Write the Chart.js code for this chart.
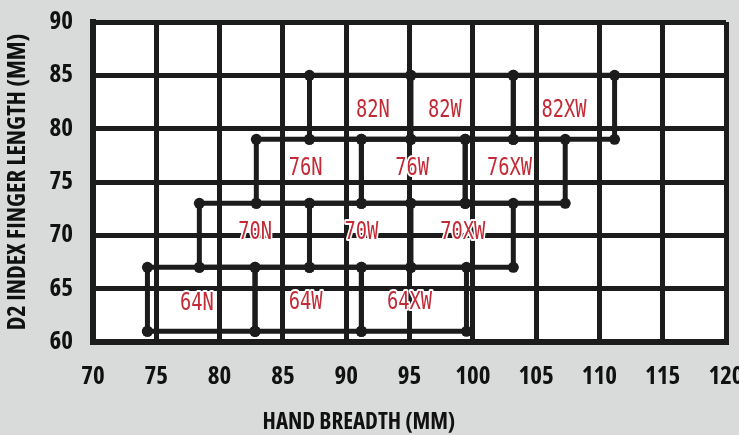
<!DOCTYPE html>
<html><head><meta charset="utf-8">
<script src="https://cdn.jsdelivr.net/npm/chart.js@4/dist/chart.umd.min.js"></script>
<style>html,body{margin:0;padding:0;background:#d9dbda;overflow:hidden}</style>
</head><body>
<canvas id="c" width="739" height="435"></canvas>
<script>
// ---- data ----
const sizeNames = ['64N','64W','64XW','70N','70W','70XW','76N','76W','76XW','82N','82W','82XW'];
const breadthLow  = [74.3, 82.8, 91.2, 78.4, 87.1, 95.1, 82.9, 91.2, 99.4, 87.1, 95.1, 103.2];
const breadthHigh = [82.8, 91.2, 99.5, 87.1, 95.1, 103.2, 91.2, 99.4, 107.3, 95.1, 103.2, 111.2];
const fingerLow   = [61, 61, 61, 67, 67, 67, 73, 73, 73, 79, 79, 79];
const fingerHigh  = [67, 67, 67, 73, 73, 73, 79, 79, 79, 85, 85, 85];
const labelX = [78.2, 86.8, 95.0, 82.8, 91.2, 99.2, 86.8, 95.2, 102.9, 92.1, 97.8, 107.2];
const labelY = [63.6, 63.7, 63.7, 70.2, 70.2, 70.2, 76.2, 76.2, 76.2, 81.7, 81.7, 81.7];
const xTickValues = [70, 75, 80, 85, 90, 95, 100, 105, 110, 115, 120];
const yTickValues = [60, 65, 70, 75, 80, 85, 90];
const xTitle = 'HAND BREADTH (MM)';
const yTitle = 'D2 INDEX FINGER LENGTH (MM)';
const xTitleCenterValue = 91; // the reference's x-axis title sits under ~91 mm, not mid-axis

const INK = '#1c1c1c';
const RED = '#c22a36';
const AXIS_FONT = '"Open Sans","Roboto",sans-serif';
const AXIS_WEIGHT = 'bold condensed';

const datasets = sizeNames.map((n, i) => ({
  label: n,
  data: [
    {x: breadthLow[i],  y: fingerLow[i]},
    {x: breadthHigh[i], y: fingerLow[i]},
    {x: breadthHigh[i], y: fingerHigh[i]},
    {x: breadthLow[i],  y: fingerHigh[i]},
    {x: breadthLow[i],  y: fingerLow[i]}
  ],
  showLine: true,
  borderColor: INK,
  borderWidth: 5,
  pointRadius: 5.5,
  pointBackgroundColor: INK,
  pointBorderWidth: 0,
  fill: false,
  tension: 0
}));

const bgPlugin = {
  id: 'bg',
  beforeDraw(chart) {
    const {ctx, chartArea: a} = chart;
    ctx.save();
    ctx.fillStyle = '#d9dbda';
    ctx.fillRect(0, 0, chart.width, chart.height);
    ctx.fillStyle = '#ffffff';
    ctx.fillRect(a.left, a.top, a.right - a.left, a.bottom - a.top);
    ctx.restore();
  }
};

const labelPlugin = {
  id: 'sizeLabels',
  afterDatasetsDraw(chart) {
    const {ctx} = chart;
    const xs = chart.scales.x, ys = chart.scales.y;
    ctx.save();
    ctx.font = '24px "DejaVu Sans Mono", monospace';
    ctx.textAlign = 'center';
    ctx.textBaseline = 'middle';
    sizeNames.forEach((n, i) => {
      const px = xs.getPixelForValue(labelX[i]);
      const py = ys.getPixelForValue(labelY[i]);
      ctx.save();
      ctx.translate(px, py);
      ctx.scale(0.78, 1);
      ctx.lineJoin = 'round';
      ctx.strokeStyle = '#ffffff';
      ctx.lineWidth = 4;
      ctx.strokeText(n, 0, 0);
      ctx.fillStyle = RED;
      ctx.fillText(n, 0, 0);
      ctx.restore();
    });
    // x-axis title
    ctx.font = 'bold condensed 23px ' + AXIS_FONT;
    ctx.fillStyle = '#111';
    ctx.textAlign = 'center';
    ctx.textBaseline = 'middle';
    ctx.fillText(xTitle, xs.getPixelForValue(xTitleCenterValue), 422);
    ctx.restore();
  }
};

new Chart(document.getElementById('c'), {
  type: 'scatter',
  data: {datasets},
  options: {
    responsive: false,
    animation: false,
    devicePixelRatio: 1,
    layout: {padding: {top: 22, right: 13, left: 0, bottom: 0}},
    plugins: {legend: {display: false}, tooltip: {enabled: false}},
    scales: {
      x: {
        type: 'linear', min: 70, max: 120,
        afterBuildTicks(s) { s.ticks = xTickValues.map(v => ({value: v})); },
        afterFit(s) { s.height = 93; s.paddingLeft = 0; s.paddingRight = 0; },
        grid: {color: INK, lineWidth: 5, drawTicks: false},
        border: {color: INK, width: 6},
        ticks: {color: '#111', padding: 20, maxRotation: 0, autoSkip: false,
                font: {family: AXIS_FONT, size: 25, weight: AXIS_WEIGHT}},
        title: {display: false, text: xTitle}
      },
      y: {
        type: 'linear', min: 60, max: 90,
        afterBuildTicks(s) { s.ticks = yTickValues.map(v => ({value: v})); },
        afterFit(s) { s.width = 93; s.paddingTop = 0; s.paddingBottom = 0; },
        grid: {color: INK, lineWidth: 5, drawTicks: false},
        border: {color: INK, width: 6},
        ticks: {color: '#111', padding: 20, autoSkip: false,
                font: {family: AXIS_FONT, size: 25, weight: AXIS_WEIGHT}},
        title: {display: true, text: yTitle, color: '#111',
                font: {family: AXIS_FONT, size: 24.5, weight: AXIS_WEIGHT, lineHeight: 1},
                padding: {top: 6, bottom: 0}}
      }
    }
  },
  plugins: [bgPlugin, labelPlugin]
});
</script>
</body></html>
